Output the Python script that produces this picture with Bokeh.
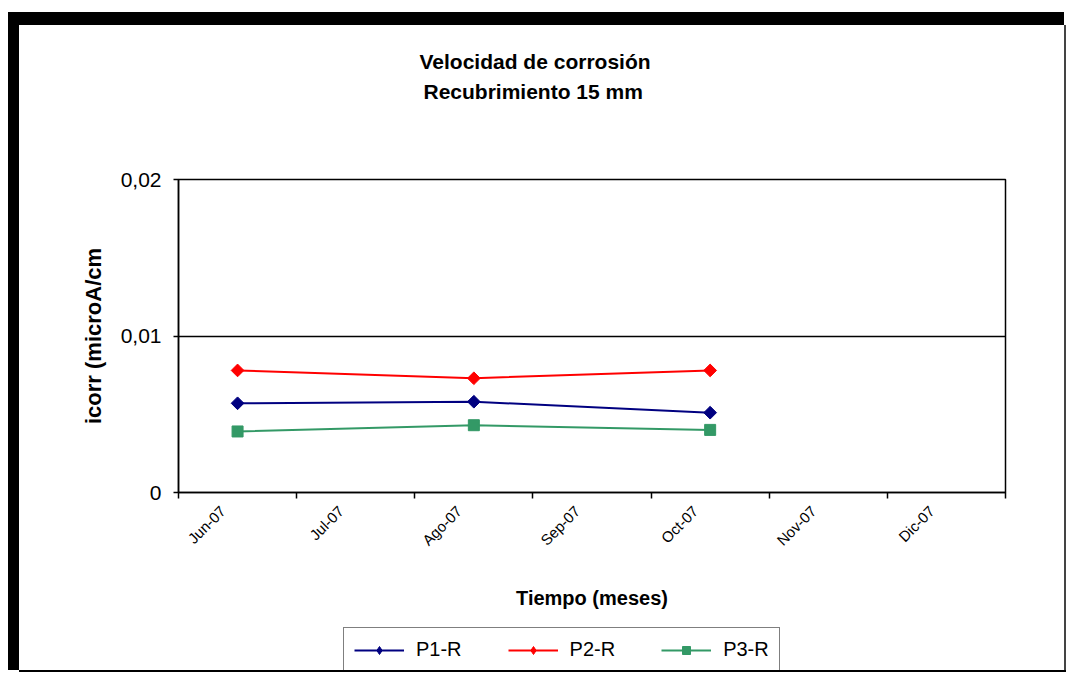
import numpy as np
from bokeh.plotting import figure
from bokeh.layouts import column
from bokeh.models import (Range1d, FixedTicker, Legend, LegendItem, Title,
                          LinearAxis)
from bokeh.embed import file_html
from bokeh.resources import INLINE

# ---- data ----
months = ["Jun-07", "Jul-07", "Ago-07", "Sep-07", "Oct-07", "Nov-07", "Dic-07"]
sample_months = ["Jun-07", "Ago-07", "Oct-07"]
p1_r = [0.0057, 0.0058, 0.0051]
p2_r = [0.0078, 0.0073, 0.0078]
p3_r = [0.0039, 0.0043, 0.0040]
series_names = ["P1-R", "P2-R", "P3-R"]
y_ticks = [0, 0.01, 0.02]
y_tick_labels = ["0", "0,01", "0,02"]

FONT = "Liberation Sans"
COLORS = ["#000080", "#FF0000", "#339966"]

x_pos = [months.index(m) + 0.5 for m in sample_months]
series = [p1_r, p2_r, p3_r]

p = figure(width=1045, height=602, output_backend="svg", toolbar_location=None,
           x_range=Range1d(0, len(months)), y_range=Range1d(y_ticks[0], y_ticks[-1]),
           min_border_left=159, min_border_right=59, min_border_top=154,
           min_border_bottom=135)
p.background_fill_color = "white"
p.border_fill_color = "white"
p.outline_line_color = "black"
p.outline_line_width = 1.5

# spacer between plot area and titles (an invisible top axis)
spacer_tick = [len(months) / 2]
spacer = LinearAxis(ticker=FixedTicker(ticks=spacer_tick, minor_ticks=[]),
                    major_tick_out=74, major_tick_in=0,
                    major_tick_line_color="white", major_tick_line_alpha=0.0,
                    minor_tick_line_color=None, axis_line_color=None,
                    major_label_standoff=0, major_label_overrides={spacer_tick[0]: ""})
p.add_layout(spacer, "above")

# titles
t2 = Title(text="Recubrimiento 15 mm", align="left", offset=245, standoff=5,
           text_font=FONT, text_font_size="21px", text_font_style="bold", text_color="black")
t1 = Title(text="Velocidad de corrosión", align="left", offset=241, standoff=5,
           text_font=FONT, text_font_size="21px", text_font_style="bold", text_color="black")
p.add_layout(t2, "above")
p.add_layout(t1, "above")

# x axis
xa = p.below[0]
label_pos = [i + 0.375 for i in range(len(months))]
xa.ticker = FixedTicker(ticks=label_pos, minor_ticks=list(range(len(months) + 1)))
xa.major_label_overrides = {pos: m for pos, m in zip(label_pos, months)}
xa.major_tick_line_color = None
xa.major_tick_out = 0
xa.major_tick_in = 0
xa.minor_tick_out = 6
xa.minor_tick_in = 0
xa.minor_tick_line_color = "black"
xa.minor_tick_line_width = 1.5
xa.major_label_orientation = np.pi / 4
xa.major_label_standoff = 10
xa.major_label_text_font = FONT
xa.major_label_text_font_size = "15px"
xa.major_label_text_color = "black"
xa.axis_line_color = "black"
xa.axis_line_width = 1.5
xa.axis_label = "Tiempo (meses)"
xa.axis_label_text_font = FONT
xa.axis_label_text_font_size = "20px"
xa.axis_label_text_font_style = "bold"
xa.axis_label_text_color = "black"
xa.axis_label_standoff = 29

# y axis
ya = p.left[0]
ya.ticker = FixedTicker(ticks=y_ticks, minor_ticks=[])
ya.major_label_overrides = {t: l for t, l in zip(y_ticks, y_tick_labels)}
ya.major_tick_out = 5
ya.major_tick_in = 0
ya.major_tick_line_color = "black"
ya.major_tick_line_width = 1.5
ya.major_label_standoff = 12
ya.major_label_text_font = FONT
ya.major_label_text_font_size = "21px"
ya.major_label_text_color = "black"
ya.axis_line_color = "black"
ya.axis_line_width = 1.5
ya.axis_label = "icorr (microA/cm"
ya.axis_label_text_font = FONT
ya.axis_label_text_font_size = "22px"
ya.axis_label_text_font_style = "bold"
ya.axis_label_text_color = "black"
ya.axis_label_standoff = 12

p.xgrid.visible = False
p.ygrid.grid_line_color = "black"
p.ygrid.grid_line_width = 1.5

# series
for vals, col, mk in zip(series, COLORS, ["d", "d", "s"]):
    p.line(x_pos, vals, line_color=col, line_width=2)
    if mk == "d":
        p.scatter(x_pos, vals, marker="square", angle=np.pi / 4, size=9,
                  fill_color=col, line_color=col)
    else:
        p.scatter(x_pos, vals, marker="square", size=11, fill_color=col, line_color=col)

# legend strip below the chart (its own canvas so nothing is clipped).
# Its glyph renderers hold the same series but its y range lies above them,
# so only the legend entries are visible.
lf = figure(width=1045, height=43, output_backend="svg", toolbar_location=None,
            x_axis_type=None, y_axis_type=None, min_border=0,
            x_range=Range1d(0, len(months)), y_range=Range1d(1, 2))
lf.outline_line_color = None
lf.grid.visible = False
lf.background_fill_color = "white"
lf.border_fill_color = "white"
items = []
for name, vals, col, mk in zip(series_names, series, COLORS, ["diamond", "diamond", "square"]):
    lr = lf.line(x_pos, vals, line_color=col, line_width=2)
    sr = lf.scatter(x_pos, vals, marker=mk, size=16 if mk == "diamond" else 11,
                    fill_color=col, line_color=col)
    items.append(LegendItem(label=name, renderers=[lr, sr]))
legend = Legend(items=items, orientation="horizontal", location=(165, -2), margin=0,
                padding=10, spacing=46, label_standoff=12,
                glyph_width=50, glyph_height=20,
                label_text_font=FONT, label_text_font_size="20px",
                label_text_color="black",
                border_line_color="black", border_line_width=1.5,
                background_fill_color="white", background_fill_alpha=1.0)
lf.add_layout(legend, "center")

layout = column(p, lf, spacing=0)
layout.styles = {"transform": "translate(19px, 25px)",
                 "background-color": "white",
                 "box-shadow": "-11px 0 0 0 black, 0 -13px 0 0 black, -11px -13px 0 0 black, "
                               "2px 0 0 0 #444444, 0 2px 0 0 black, 2px 2px 0 0 black"}

open("out.html", "w").write(file_html(layout, INLINE))
